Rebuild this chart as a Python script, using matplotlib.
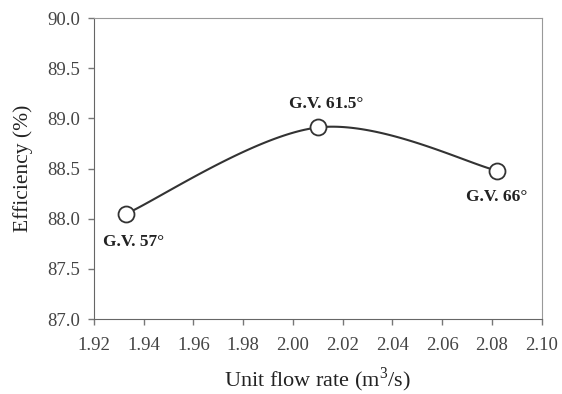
import matplotlib.pyplot as plt
import numpy as np

# Unit flow rate vs efficiency for three guide vane openings
flow = [1.933, 2.010, 2.082]
eff = [88.05, 88.91, 88.48]
labels = ["G.V. 57°", "G.V. 61.5°", "G.V. 66°"]
offsets = [(5, -20), (6, 17), (0, -19)]

xticks = [1.92, 1.94, 1.96, 1.98, 2.00, 2.02, 2.04, 2.06, 2.08, 2.10]
yticks = [87.0, 87.5, 88.0, 88.5, 89.0, 89.5, 90.0]


def smooth(xs, ys, n=60):
    # Excel-like smoothed line: cubic Bezier through the points
    p = np.column_stack([xs, ys])
    ext = np.vstack([p[0], p, p[-1]])
    out = []
    for i in range(len(p) - 1):
        p0, p1 = p[i], p[i + 1]
        c1 = p0 + (ext[i + 2] - ext[i]) / 6
        c2 = p1 - (ext[i + 3] - ext[i + 1]) / 6
        t = np.linspace(0, 1, n)[:, None]
        seg = ((1 - t) ** 3 * p0 + 3 * (1 - t) ** 2 * t * c1
               + 3 * (1 - t) * t ** 2 * c2 + t ** 3 * p1)
        out.append(seg)
    pts = np.vstack(out)
    return pts[:, 0], pts[:, 1]


plt.rcParams['font.family'] = ['Liberation Serif', 'DejaVu Serif']
plt.rcParams['mathtext.fontset'] = 'custom'
plt.rcParams['mathtext.rm'] = 'Liberation Serif'

fig = plt.figure(figsize=(5.62, 3.94), dpi=100)
ax = fig.add_axes([0.167, 0.190, 0.797, 0.764])

sx, sy = smooth(flow, eff)
ax.plot(sx, sy, color='#333333', lw=1.5, zorder=2)
ax.plot(flow, eff, 'o', ms=11.5, mfc='white', mec='#333333', mew=1.3, zorder=3)

for x, y, lab, off in zip(flow, eff, labels, offsets):
    ax.annotate(lab, (x, y), xytext=off, textcoords='offset points',
                ha='center', va='center', fontsize=12.5, fontweight='bold',
                color='#222222')

ax.set_xlim(1.92, 2.10)
ax.set_ylim(87.0, 90.0)
ax.set_xticks(xticks)
ax.set_xticklabels([f"{v:.2f}" for v in xticks])
ax.set_yticks(yticks)
ax.set_yticklabels([f"{v:.1f}" for v in yticks])
ax.tick_params(direction='out', length=4, width=1, color='#777777',
               labelsize=13.5, labelcolor='#444444')
ax.tick_params(axis='x', pad=9)
ax.tick_params(axis='y', pad=6)

for side in ['left', 'bottom']:
    ax.spines[side].set_color('#666666')
for side in ['top', 'right']:
    ax.spines[side].set_color('#999999')

ax.set_xlabel("Unit flow rate (m$^3$/s)", fontsize=16, color='#222222')
ax.xaxis.set_label_coords(0.5, -0.153)
ax.set_ylabel("Efficiency (%)", fontsize=15.5, color='#222222')
ax.yaxis.set_label_coords(-0.136, 0.5)

fig.savefig('out.png', dpi=100)
